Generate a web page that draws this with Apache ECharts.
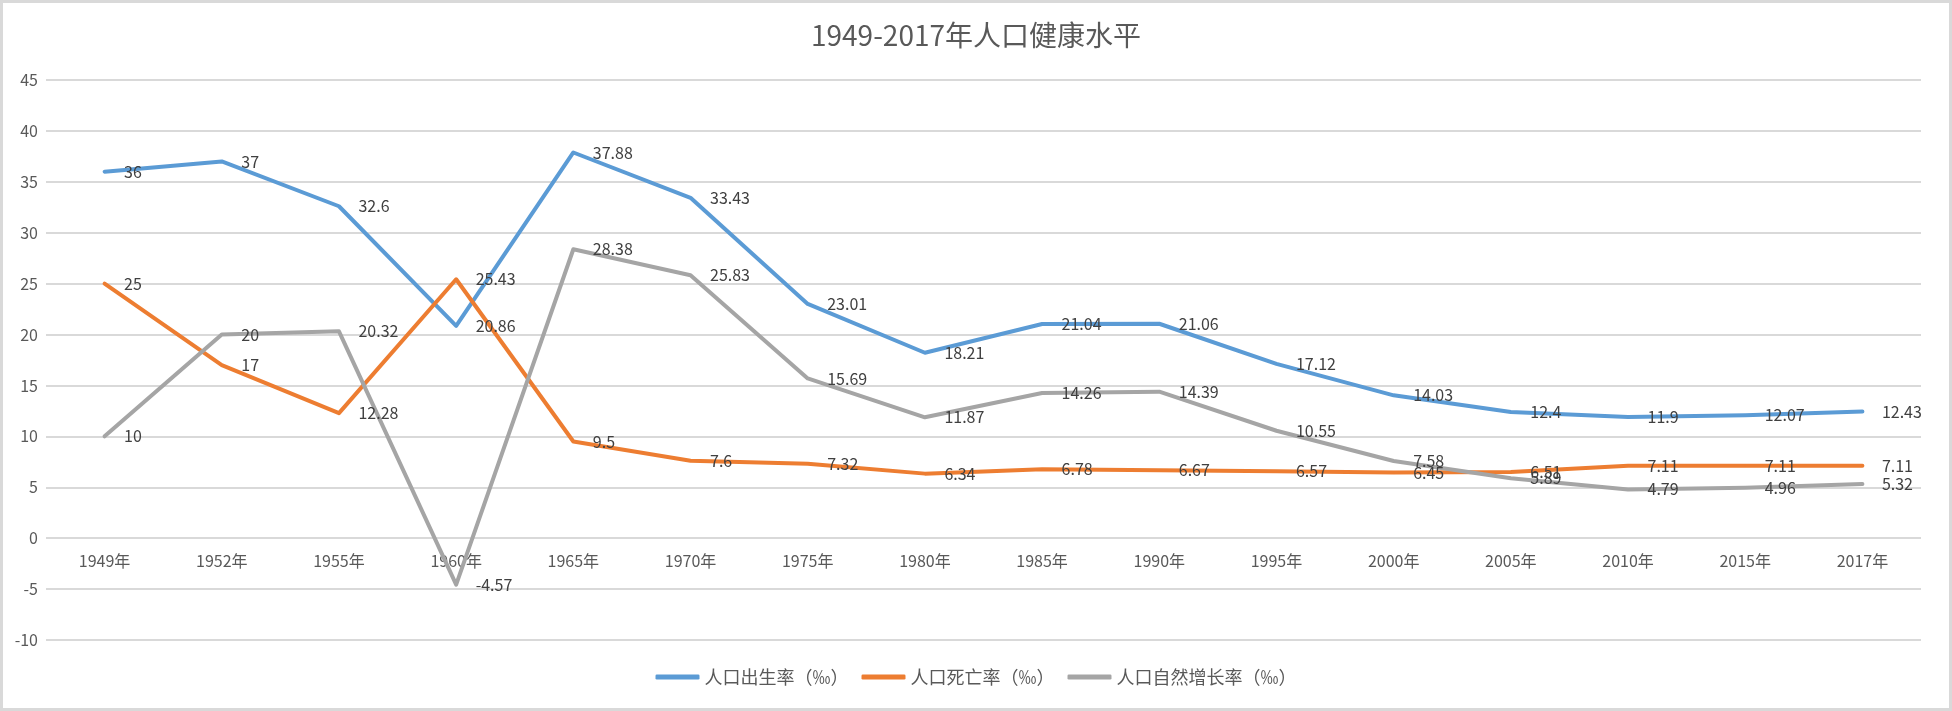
<!DOCTYPE html>
<html>
<head>
<meta charset="utf-8">
<script src="https://cdn.jsdelivr.net/npm/echarts@6/dist/echarts.min.js"></script>
<style>
html,body{margin:0;padding:0;background:#fff;}
#wrap{width:1952px;height:711px;box-sizing:border-box;border:3px solid #d9d9d9;position:relative;overflow:hidden;}
#chart{position:absolute;left:-3px;top:-3px;width:1952px;height:711px;}
</style>
</head>
<body>
<div id="wrap"><div id="chart"></div></div>
<script>
const titleText = '1949-2017年人口健康水平';
const categories = ['1949年','1952年','1955年','1960年','1965年','1970年','1975年','1980年','1985年','1990年','1995年','2000年','2005年','2010年','2015年','2017年'];
const seriesNames = ['人口出生率（‰）','人口死亡率（‰）','人口自然增长率（‰）'];
const birthRate = [36,37,32.6,20.86,37.88,33.43,23.01,18.21,21.04,21.06,17.12,14.03,12.4,11.9,12.07,12.43];
const deathRate = [25,17,12.28,25.43,9.5,7.6,7.32,6.34,6.78,6.67,6.57,6.45,6.51,7.11,7.11,7.11];
const naturalRate = [10,20,20.32,-4.57,28.38,25.83,15.69,11.87,14.26,14.39,10.55,7.58,5.89,4.79,4.96,5.32];
const colors = ['#5B9BD5','#ED7D31','#A5A5A5'];
const FONT = '"Noto Sans CJK SC", "Noto Sans", sans-serif';
const yMin = -10, yMax = 45;
const gridTop = 80, gridBottom = 71, chartH = 711;

function mk(name, data, color) {
  return {
    name: name, type: 'line', data: data,
    symbol: 'circle', symbolSize: 1, showSymbol: true,
    itemStyle: { color: color },
    lineStyle: { color: color, width: 4, cap: 'round', join: 'round' },
    label: { show: true, position: 'right', distance: 19, color: '#404040', fontSize: 16, fontFamily: FONT },
    emphasis: { disabled: true },
    animation: false, z: 2
  };
}

// place x axis at value 0 (as Excel does)
const plotH = chartH - gridTop - gridBottom;
const zeroOffset = -plotH * (0 - yMin) / (yMax - yMin);

const chart = echarts.init(document.getElementById('chart'), null, { renderer: 'canvas' });
chart.setOption({
  backgroundColor: '#ffffff',
  animation: false,
  color: colors,
  title: {
    text: titleText, left: 'center', top: 21, padding: 0,
    textStyle: { color: '#595959', fontSize: 28, fontWeight: 'normal', fontFamily: FONT }
  },
  legend: {
    data: seriesNames, bottom: 20, left: 'center',
    icon: 'roundRect', itemWidth: 44, itemHeight: 5, itemGap: 13,
    textStyle: { color: '#595959', fontSize: 18, fontFamily: FONT }
  },
  grid: { left: 46, right: 31, top: gridTop, bottom: gridBottom, containLabel: false },
  xAxis: {
    type: 'category', data: categories, boundaryGap: true,
    position: 'bottom', offset: zeroOffset,
    axisLine: { show: false, onZero: false },
    axisTick: { show: false },
    axisLabel: { interval: 0, margin: 15, color: '#595959', fontSize: 16, fontFamily: FONT },
    splitLine: { show: false }
  },
  yAxis: {
    type: 'value', min: yMin, max: yMax, interval: 5,
    axisLine: { show: false }, axisTick: { show: false },
    axisLabel: { margin: 8, color: '#595959', fontSize: 16, fontFamily: FONT },
    splitLine: { show: true, lineStyle: { color: '#d9d9d9', width: 2 } }
  },
  series: [
    mk(seriesNames[0], birthRate, colors[0]),
    mk(seriesNames[1], deathRate, colors[1]),
    mk(seriesNames[2], naturalRate, colors[2])
  ]
});
</script>
</body>
</html>
